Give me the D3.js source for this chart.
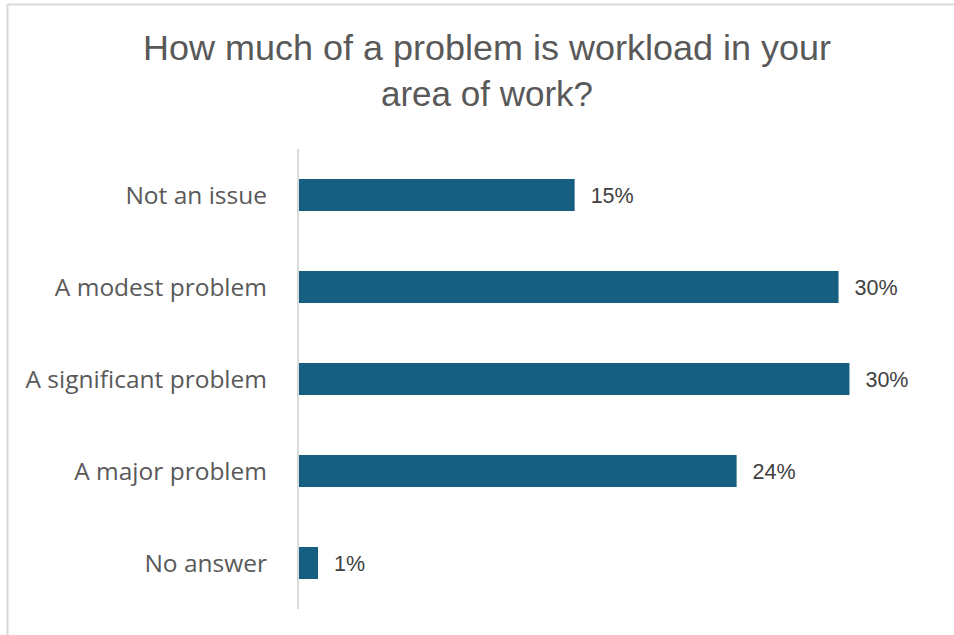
<!DOCTYPE html>
<html>
<head>
<meta charset="utf-8">
<script src="https://cdn.jsdelivr.net/npm/d3@7"></script>
<style>
  html, body { margin: 0; padding: 0; background: #ffffff; }
  svg { display: block; }
</style>
</head>
<body>
<svg id="chart" width="954" height="635"></svg>
<script>
// Survey responses: share of respondents per answer (percent)
const categories = ["Not an issue", "A modest problem", "A significant problem", "A major problem", "No answer"];
const values = [15.2, 29.7, 30.3, 24.1, 1.1];
const titleLines = ["How much of a problem is workload in your", "area of work?"];

const svg = d3.select("#chart");
const W = 954, H = 635;

// Chart frame (top and left edges)
svg.append("line").attr("x1", 7.5).attr("x2", W).attr("y1", 4.5).attr("y2", 4.5)
  .attr("stroke", "#d9d9d9").attr("stroke-width", 2);
svg.append("line").attr("x1", 7.5).attr("x2", 7.5).attr("y1", 4).attr("y2", H)
  .attr("stroke", "#d9d9d9").attr("stroke-width", 2);

// Title (condensed, two centred lines)
const title = svg.append("g");
title.selectAll("text").data(titleLines).join("text")
  .attr("x", 487)
  .attr("y", (d, i) => 60 + i * 46)
  .attr("text-anchor", "middle")
  .attr("fill", "#595959")
  .style("font-family", "'Liberation Sans', Arial, sans-serif")
  .style("font-size", "35px")
  .attr("textLength", (d, i) => i === 0 ? 688 : 212)
  .attr("lengthAdjust", "spacingAndGlyphs")
  .text(d => d);

// Scales
const x0 = 298;
const x = d3.scaleLinear().domain([0, 1]).range([x0, x0 + 18.2]);
const y = d3.scaleBand().domain(categories).range([149, 609]).paddingInner(0.652).paddingOuter(0.326);

// Bars
svg.append("g").selectAll("rect").data(categories).join("rect")
  .attr("x", x(0))
  .attr("y", d => y(d))
  .attr("width", (d, i) => x(values[i]) - x(0))
  .attr("height", y.bandwidth())
  .attr("fill", "#175f80");

// Category axis
const axis = svg.append("g").attr("transform", `translate(${x0},0)`)
  .call(d3.axisLeft(y).tickSize(0).tickPadding(31));
axis.select(".domain").attr("stroke", "#d9d9d9").attr("stroke-width", 2).attr("d", "M0,149V609");
axis.selectAll("text")
  .attr("fill", "#595959")
  .attr("dy", "0.36em")
  .style("font-family", "'Open Sans', 'Noto Sans', sans-serif")
  .style("font-size", "24.5px");

// Value labels
svg.append("g").selectAll("text").data(categories).join("text")
  .attr("x", (d, i) => x(values[i]) + 16)
  .attr("y", d => y(d) + y.bandwidth() / 2)
  .attr("dy", "0.36em")
  .attr("fill", "#404040")
  .style("font-family", "'Liberation Sans', Arial, sans-serif")
  .style("font-size", "21.5px")
  .text((d, i) => Math.round(values[i]) + "%");
</script>
</body>
</html>
